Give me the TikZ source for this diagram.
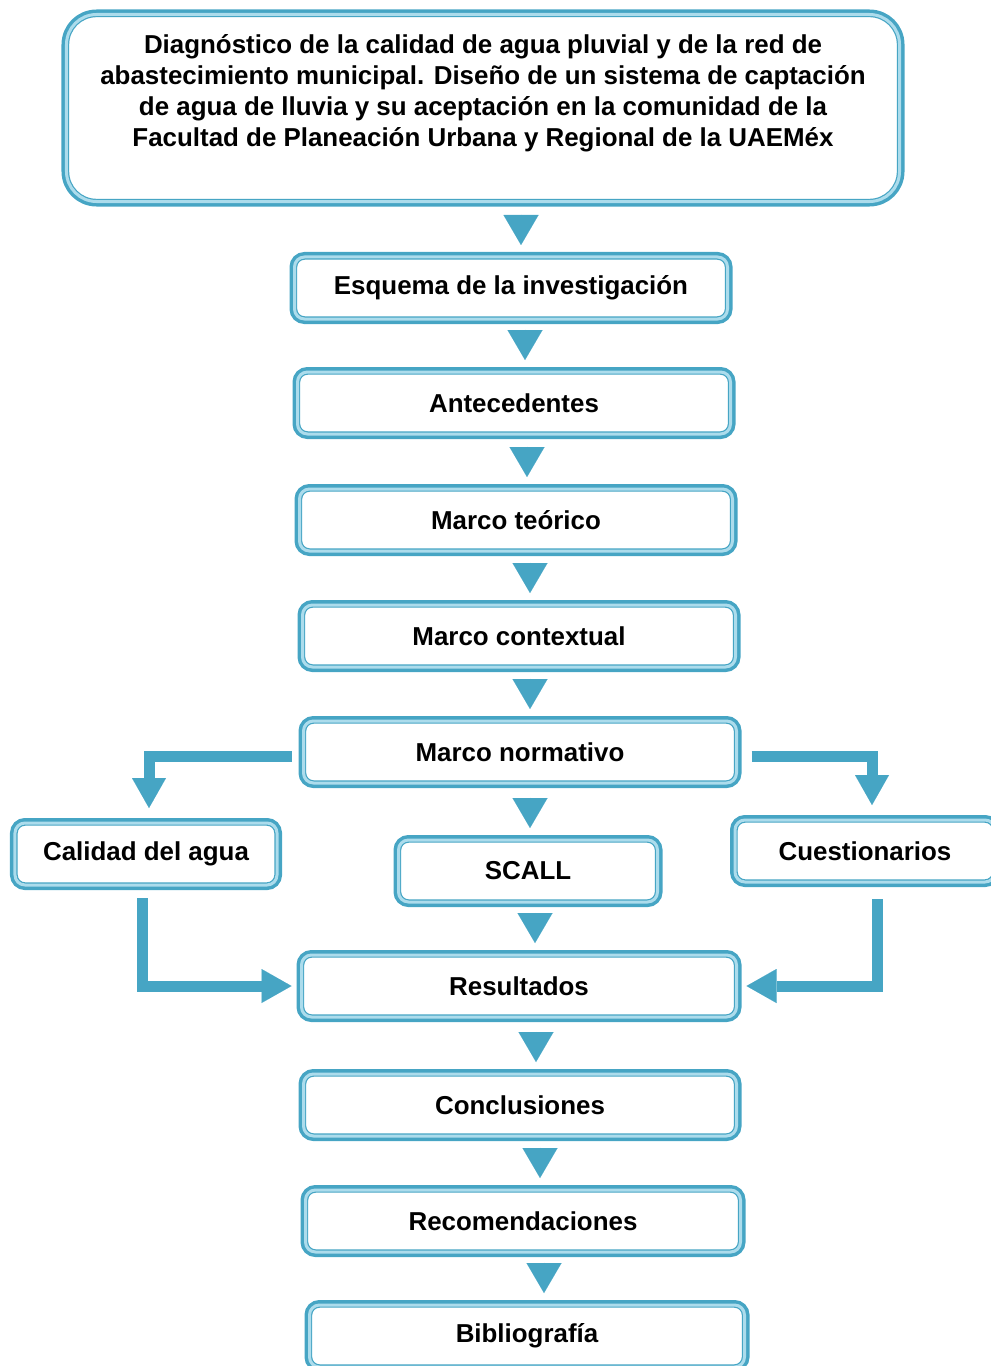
\documentclass[tikz,border=0pt]{standalone}
\usepackage{fontspec}
\setmainfont{Liberation Sans}
\usepackage{tikz}
\usetikzlibrary{arrows.meta, calc, positioning}
\usepackage{xcolor}
\definecolor{Teal}{RGB}{70, 165, 196}
\definecolor{LiteBlue}{RGB}{172, 220, 236}
\tikzset{%
  step_box/.style={%
    rectangle,%
    rounded corners=10bp,%
    minimum width=433bp,%
    minimum height=62bp,%
    inner sep=0pt,%
    outer sep=5bp,%
    preaction={draw=Teal, line width=10bp},%
    preaction={fill=white},%
    preaction={draw=Teal, line width=5.4bp},%
    draw=LiteBlue,%
    line width=3bp,%
    font={\fontsize{26}{30}\selectfont\bfseries},%
    align=center%
  },
  side_box/.style={%
    step_box,%
    minimum width=260bp,%
  },
  title_box/.style={%
    step_box,%
    rounded corners=30bp,%
    minimum width=833bp,%
    minimum height=187bp,%
  },
  title_text/.style={%
    font={\fontsize{26}{31}\selectfont\bfseries},%
    align=center,%
    inner sep=0pt%
  },
  flow/.style={%
    draw=Teal,%
    line width=0.3bp,%
    shorten >=7bp,%
    -{Triangle[width=35bp, length=30bp, line width=0.01pt]}%
  },
  side_arrow/.style={%
    draw=Teal,%
    line width=11bp,%
    -{Triangle[width=34bp, length=30bp, line width=0.01pt]}%
  },
}

\begin{document}
\begin{tikzpicture}[x=1bp, y=-1bp]

    \useasboundingbox (0,0) rectangle (990,1366);

    \node [title_box] (Title) at (483,108) {};
    \node [title_text] (TitleText) at ([yshift=15bp]Title.center)
      {Diagnóstico de la calidad de agua pluvial y de la red de\\
       abastecimiento municipal. Diseño de un sistema de captación\\
       de agua de lluvia y su aceptación en la comunidad de la\\
       Facultad de Planeación Urbana y Regional de la UAEMéx};

    \node [step_box] (Esquema) at (511,288) {Esquema de la investigación};
    \node [step_box] (Antecedentes) at (514,403) {Antecedentes};
    \node [step_box] (Teorico) at (516,520) {Marco teórico};
    \node [step_box] (Contextual) at (519,636) {Marco contextual};
    \node [step_box] (Normativo) at (520,752) {Marco normativo};
    \node [side_box, minimum width=262bp] (Calidad) at (146,854) {Calidad del agua};
    \node [side_box, minimum width=259bp] (Scall) at (528,871) {SCALL};
    \node [side_box] (Cuestionarios) at (865,851) {Cuestionarios};
    \node [step_box, minimum width=435bp] (Resultados) at (519,986) {Resultados};
    \node [step_box] (Conclusiones) at (520,1105) {Conclusiones};
    \node [step_box, minimum width=435bp] (Recomendaciones) at (523,1221) {Recomendaciones};
    \node [step_box, minimum width=435bp] (Bibliografia) at (527,1336) {Bibliografía};

    \draw [flow, shorten <=8bp]
      ([xshift=10bp]Title.south -| Esquema.north)
      --
      ([xshift=10bp]Esquema.north);
    \draw [flow, shorten <=5.5bp]
      ([xshift=11bp]Esquema.south -| Antecedentes.north)
      --
      ([xshift=11bp]Antecedentes.north);
    \draw [flow, shorten <=7.5bp]
      ([xshift=11bp]Antecedentes.south -| Teorico.north)
      --
      ([xshift=11bp]Teorico.north);
    \draw [flow, shorten <=6.5bp]
      ([xshift=11bp]Teorico.south -| Contextual.north)
      --
      ([xshift=11bp]Contextual.north);
    \draw [flow, shorten <=6.5bp]
      ([xshift=10bp]Contextual.south -| Normativo.north)
      --
      ([xshift=10bp]Normativo.north);
    \draw [flow, shorten <=9.5bp]
      ([xshift=2bp]Normativo.south -| Scall.north)
      --
      ([xshift=2bp]Scall.north);
    \draw [flow, shorten <=5.8bp]
      ([xshift=16bp]Scall.south -| Resultados.north)
      --
      ([xshift=16bp]Resultados.north);
    \draw [flow, shorten <=9.8bp]
      ([xshift=16bp]Resultados.south -| Conclusiones.north)
      --
      ([xshift=16bp]Conclusiones.north);
    \draw [flow, shorten <=6.5bp]
      ([xshift=17bp]Conclusiones.south -| Recomendaciones.north)
      --
      ([xshift=17bp]Recomendaciones.north);
    \draw [flow, shorten <=5.5bp]
      ([xshift=17bp]Recomendaciones.south -| Bibliografia.north)
      --
      ([xshift=17bp]Bibliografia.north);

    \draw [side_arrow]
      ([xshift=-7bp, yshift=-4bp]Normativo.west)
      -|
      ([xshift=3bp, yshift=10bp]Calidad.north);
    \draw [side_arrow]
      ([xshift=10bp, yshift=-4bp]Normativo.east)
      -|
      ([xshift=7bp, yshift=10bp]Cuestionarios.north);
    \draw [side_arrow]
      ([xshift=-4bp, yshift=-8bp]Calidad.south)
      |-
      ([xshift=-5bp]Resultados.west);
    \draw [side_arrow]
      ([xshift=12bp, yshift=-12bp]Cuestionarios.south)
      |-
      ([xshift=5bp]Resultados.east);
  \end{tikzpicture}
\end{document}
